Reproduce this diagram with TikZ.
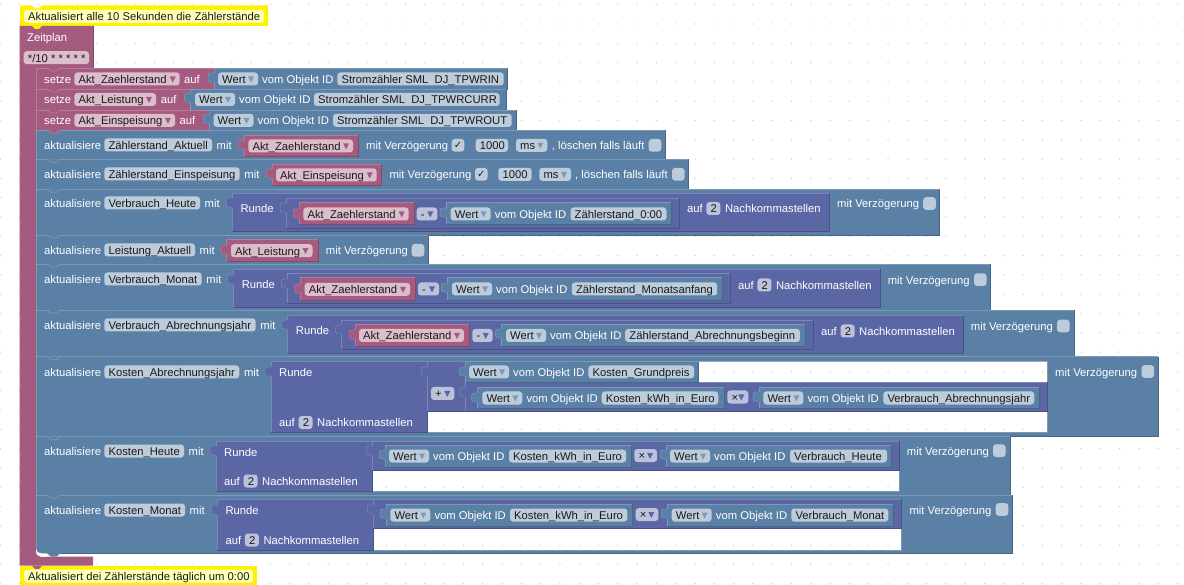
\documentclass[tikz,border=0pt]{standalone}
\usepackage{fontspec}
\setmainfont{Liberation Sans}
\newfontfamily\djvfont{DejaVu Sans}
\definecolor{bluB}{HTML}{5B80A5}\definecolor{bluL}{HTML}{7C99B7}\definecolor{bluD}{HTML}{496684}\definecolor{bluC}{HTML}{BDCCDB}\definecolor{bluA}{HTML}{7F9AB5}
\definecolor{pnkB}{HTML}{A55B80}\definecolor{pnkL}{HTML}{B77C99}\definecolor{pnkD}{HTML}{844966}\definecolor{pnkC}{HTML}{DBBDCC}\definecolor{pnkA}{HTML}{A55B80}
\definecolor{purB}{HTML}{5B67A5}\definecolor{purL}{HTML}{7C85B7}\definecolor{purD}{HTML}{495284}\definecolor{purC}{HTML}{BDC2DB}\definecolor{purA}{HTML}{5B67A5}
\definecolor{yelC}{HTML}{FFFFB8}\definecolor{txtD}{HTML}{1A1A1A}\definecolor{gridDot}{HTML}{CFCFCF}
\tikzset{
 lab/.style={anchor=base west,inner sep=0pt,text=white,font=\fontsize{11.25}{13}\selectfont},
 fld/.style={anchor=base west,inner sep=0pt,text=txtD,font=\fontsize{11.25}{13}\selectfont},
 edge/.style={line width=0.8pt},
 thin edge/.style={line width=0.5pt}
}
% block: x1 y1 x2 y2 colour
\newcommand\myblk[5]{\fill[#5B] (#1,#2) rectangle (#3,#4);
 \draw[#5L,edge] (#1,#4) -- (#1,#2) -- (#3,#2);
 \draw[#5D,edge] (#3,#2) -- (#3,#4) -- (#1,#4);}
% block with an open hole: outer x1 y1 x2 y2, hole x3 y3 x4 y4
\newcommand\myholeblk[8]{\fill[bluB,even odd rule] (#1,#2) rectangle (#3,#4) (#5,#6) rectangle (#7,#8);
 \draw[bluL,edge] (#1,#4) -- (#1,#2) -- (#3,#2);
 \draw[bluD,edge] (#3,#2) -- (#3,#4) -- (#1,#4);
 \draw[bluL,edge] (#5,#8) -- (#7,#8) -- (#7,#6);}
\newcommand\mylab[3]{\node[lab] at ({#1},{#2+4.4}) {#3};}
% chip: x1 x2 cy text colour
\newcommand\mychip[5]{\fill[#5C,rounded corners=3pt] (#1,{#3-6.5}) rectangle (#2,{#3+6.5});
 \node[fld] at ({#1+4},{#3+4.4}) {#4};}
\newcommand\myddn[5]{\mychip{#1}{#2}{#3}{#4}{#5}
 \fill[#5A] ({#2-10},{#3-2.5}) -- ({#2-4},{#3-2.5}) -- ({#2-7},{#3+3.5}) -- cycle;}
\newcommand\myoid[5]{\myddn{#1}{#1+40}{#4}{Wert}{blu}\mylab{#1+44}{#4}{vom Objekt ID}\mychip{#2}{#3}{#4}{#5}{blu}}
\newcommand\mycheck[3]{\fill[bluC,rounded corners=3pt] (#1,{#2-6.3}) rectangle ({#1+12.6},{#2+6.3});
 \node[fld,anchor=center,font=\djvfont\fontsize{10}{12}\selectfont] at ({#1+6.3},#2) {#3};}
\newcommand\myptab[3]{\filldraw[fill=#3B,draw=#3L,line width=0.5pt] ({#1+0.6},{#2-5.5}) .. controls ({#1-1},{#2-4}) and ({#1-6},{#2-6}) .. ({#1-6},{#2-3}) -- ({#1-6},{#2+2}) .. controls ({#1-6},{#2+5}) and ({#1-1},{#2+3}) .. ({#1+0.6},{#2+5});
 \fill[#3B] ({#1},{#2-5}) rectangle ({#1+1},{#2+4.5});}
\newcommand\mynotch[2]{\fill[#2B] (47.5,#1) -- (51,{#1+3}) -- (56.5,{#1+3}) -- (60,#1) -- cycle;
 \draw[#2L,line width=0.7pt] (47.5,#1) -- (51,{#1+3}) -- (56.5,{#1+3}) -- (60,#1);}
\newcommand\myakt[4]{\mylab{44}{#1}{aktualisiere}\mychip{104.3}{#2}{#1}{#3}{blu}\mylab{#2+4.5}{#1}{mit}}
\newcommand\myrunde[5]{\mylab{#1}{#2}{auf}\mychip{#1+19.6}{#1+33.6}{#2}{2}{pur}\mylab{#1+38}{#2}{Nachkommastellen}}
\begin{document}
\begin{tikzpicture}[x=1pt,y=-1pt]
\useasboundingbox (0,0) rectangle (1184,585);
\fill[white] (0,0) rectangle (1184,585);
\foreach \i in {0,...,61}{\foreach \j in {0,...,30}{
 \fill[gridDot] ({0.2+19.3*\i},{4.7+19.3*\j}) circle (0.75pt);}}
% comment 1
\fill[yellow] (20,7.5) .. controls (20,6) and (21,5.5) .. (22,5.5) -- (32,5.5) -- (35,8.5) -- (39,8.5) -- (42,5.5) -- (268,5.5) -- (268,26) -- (42,26) -- (39,29) -- (35,29) -- (32,26) -- (20,26) -- cycle;
\mychip{24}{264}{16.3}{Aktualisiert alle 10 Sekunden die Zählerstände}{yel}
% schedule block
\fill[pnkB] (19.5,26) -- (93,26) -- (93,68) -- (41,68) .. controls (38,68) and (36,70) .. (36,73) -- (36,551) .. controls (36,554.5) and (38,556.7) .. (41,556.7) -- (93,556.7) -- (93,565.7) -- (19.5,565.7) -- cycle;
\draw[pnkD,edge] (93,26) -- (93,68);
\fill[yellow] (35,26) -- (39,26) -- (42,26) -- (39,29) -- (35,29) -- (32,26) -- cycle;
\mylab{27}{37}{Zeitplan}
\mychip{23.7}{89}{57.7}{*/10 * * * * *}{pnk}
% setze rows
\myblk{36}{68}{214}{89}{pnk}\myblk{214}{68}{507.7}{89}{blu}\myptab{214}{78}{blu}
\mylab{44}{79}{setze}\myddn{74.3}{179.7}{79}{Akt\_Zaehlerstand}{pnk}\mylab{184}{79}{auf}
\myoid{218}{337.3}{503.7}{79}{Stromzähler SML\ \ DJ\_TPWRIN}
\myblk{36}{89}{190.5}{110}{pnk}\myblk{190.5}{89}{506}{110}{blu}\myptab{190.5}{98}{blu}
\mylab{44}{99.5}{setze}\myddn{74.3}{156}{99.5}{Akt\_Leistung}{pnk}\mylab{160.7}{99.5}{auf}
\myoid{195}{314}{499.5}{99.5}{Stromzähler SML\ \ DJ\_TPWRCURR}
\myblk{36}{110}{209.5}{130}{pnk}\myblk{209.5}{110}{516}{130}{blu}\myptab{209.5}{119}{blu}
\mylab{44}{120.3}{setze}\myddn{74.3}{175}{120.3}{Akt\_Einspeisung}{pnk}\mylab{179.5}{120.3}{auf}
\myoid{213.5}{333}{511.7}{120.3}{Stromzähler SML\ \ DJ\_TPWROUT}
% Zaehlerstand_Aktuell
\myblk{36}{130}{665.3}{159.3}{blu}
\myakt{145}{212}{Zählerstand\_Aktuell}{}
\myblk{244}{135}{358.3}{156}{pnk}\myptab{244}{145}{pnk}\myddn{248.3}{353}{146}{Akt\_Zaehlerstand}{pnk}
\mylab{366}{145}{mit Verzögerung}\mycheck{451.7}{145.3}{✓}
\mychip{475.7}{508}{145.3}{1000}{blu}\myddn{516}{547.3}{145.3}{ms}{blu}
\mylab{551.7}{145}{, löschen falls läuft}\mycheck{648.7}{145.3}{}
% Zaehlerstand_Einspeisung
\myblk{36}{159.3}{688.7}{189.3}{blu}
\myakt{174}{239.7}{Zählerstand\_Einspeisung}{}
\myblk{272}{164}{381.7}{185}{pnk}\myptab{272}{174}{pnk}\myddn{276}{376.7}{175}{Akt\_Einspeisung}{pnk}
\mylab{389.3}{174}{mit Verzögerung}\mycheck{475}{174.3}{✓}
\mychip{498.3}{531.7}{174.3}{1000}{blu}\myddn{539.3}{571}{174.3}{ms}{blu}
\mylab{575}{174}{, löschen falls läuft}\mycheck{672}{174.3}{}
% Verbrauch_Heute
\myblk{36}{189.3}{939.6}{235}{blu}
\myakt{203}{200}{Verbrauch\_Heute}{}
\myblk{232.3}{193.3}{829.4}{231.7}{pur}\myptab{232.3}{203}{pur}\mylab{240.3}{208}{Runde}
\myblk{286}{198.3}{679.3}{228.3}{pur}\myptab{286}{208}{pur}
\myblk{299.3}{202.3}{414}{224.3}{pnk}\myptab{299.3}{214}{pnk}\myddn{303.3}{408.7}{214}{Akt\_Zaehlerstand}{pnk}
\myddn{416.7}{437.3}{214}{-}{pur}
\myblk{446}{202.3}{671.6}{224.3}{blu}\myptab{446}{213}{blu}
\myoid{450.7}{570.5}{666.5}{214}{Zählerstand\_0:00}
\myrunde{686.8}{208.5}{}{}{}
\mylab{837}{203}{mit Verzögerung}\mycheck{923.2}{203.5}{}
% Leistung_Aktuell
\myblk{36}{235}{428.7}{264}{blu}
\myakt{250}{195}{Leistung\_Aktuell}{}
\myblk{226.7}{239.3}{318.7}{261}{pnk}\myptab{226.7}{250}{pnk}\myddn{231}{312.5}{250.7}{Akt\_Leistung}{pnk}
\mylab{325.7}{250}{mit Verzögerung}\mycheck{411.7}{250.3}{}
% Verbrauch_Monat
\myblk{36}{264}{990}{310}{blu}
\myakt{279}{201.7}{Verbrauch\_Monat}{}
\myblk{233.7}{269}{880.5}{307.3}{pur}\myptab{233.7}{280}{pur}\mylab{241.6}{284}{Runde}
\myblk{287.3}{273.3}{730.7}{303.7}{pur}\myptab{287.3}{284}{pur}
\myblk{300.7}{277.7}{415.3}{300}{pnk}\myptab{300.7}{289}{pnk}\myddn{304.7}{410}{289.3}{Akt\_Zaehlerstand}{pnk}
\myddn{418}{439}{289}{-}{pur}
\myblk{447.3}{277.7}{722.3}{300}{blu}\myptab{447.3}{288}{blu}
\myoid{452}{571.8}{717.2}{289}{Zählerstand\_Monatsanfang}
\myrunde{737.8}{285}{}{}{}
\mylab{887.6}{280}{mit Verzögerung}\mycheck{974}{279.7}{}
% Verbrauch_Abrechnungsjahr
\myblk{36}{310}{1074}{356.7}{blu}
\myakt{325}{255.7}{Verbrauch\_Abrechnungsjahr}{}
\myblk{287.7}{315.7}{963.3}{353.3}{pur}\myptab{287.7}{325}{pur}\mylab{295.7}{330}{Runde}
\myblk{341.7}{320}{813.5}{349.3}{pur}\myptab{341.7}{330}{pur}
\myblk{355}{324.3}{469.3}{346}{pnk}\myptab{355}{335}{pnk}\myddn{359}{464}{335.5}{Akt\_Zaehlerstand}{pnk}
\myddn{472.3}{492.7}{335.5}{-}{pur}
\myblk{501.7}{324.3}{805.8}{346}{blu}\myptab{501.7}{334}{blu}
\myoid{506}{625.2}{800}{335.5}{Zählerstand\_Abrechnungsbeginn}
\myrunde{821}{331}{}{}{}
\mylab{970.7}{326}{mit Verzögerung}\mycheck{1057}{326}{}
% Kosten_Abrechnungsjahr
\myholeblk{36}{356.7}{1158.3}{436.7}{427.3}{361.7}{1047.7}{432.3}
\myakt{372}{239.3}{Kosten\_Abrechnungsjahr}{}
\myblk{271}{361.7}{427.3}{432.3}{pur}\myptab{271}{372}{pur}\mylab{279}{372}{Runde}
\myrunde{279}{422.5}{}{}{}
\myblk{427.3}{361.7}{465.5}{411.3}{pur}\myptab{427.3}{372}{pur}
\myddn{431}{454.3}{393.5}{+}{pur}
\myblk{465.5}{382.3}{1047.7}{411.3}{pur}
\myblk{465.5}{361.7}{698.5}{382.3}{blu}\myptab{465.5}{372}{blu}
\myoid{469}{588.3}{694}{372}{Kosten\_Grundpreis}
\myptab{465.5}{392.5}{pur}
\myblk{477.7}{387.3}{724}{408}{blu}\myptab{477.7}{398}{blu}
\myoid{482.3}{601.7}{718.3}{398}{Kosten\_kWh\_in\_Euro}
\myddn{727.3}{748.3}{397}{×}{pur}
\myblk{759}{387.3}{1039.3}{408}{blu}\myptab{759}{397}{blu}
\myoid{763.3}{883.3}{1034.3}{398}{Verbrauch\_Abrechnungsjahr}
\mylab{1055}{372}{mit Verzögerung}\mycheck{1141.5}{371.5}{}
% Kosten_Heute
\myholeblk{36}{436.7}{1010}{495}{372}{441}{899.3}{491.3}
\myakt{451}{184}{Kosten\_Heute}{}
\myblk{216}{441}{372}{491.3}{pur}\myptab{216}{451}{pur}\mylab{224}{452}{Runde}
\myrunde{224}{481}{}{}{}
\myblk{372}{441}{899.3}{470}{pur}\myptab{372}{451}{pur}
\myblk{385}{445}{631}{467}{blu}\myptab{385}{455}{blu}
\myoid{389}{509}{626}{456}{Kosten\_kWh\_in\_Euro}
\myddn{634.3}{657}{455.5}{×}{pur}
\myblk{666}{445}{891.7}{467}{blu}\myptab{666}{455}{blu}
\myoid{670}{790}{887}{456}{Verbrauch\_Heute}
\mylab{906.7}{451}{mit Verzögerung}\mycheck{993}{450.7}{}
% Kosten_Monat
\myholeblk{36}{495}{1012.7}{553.3}{373.3}{499}{901.7}{550}
\myakt{510}{185}{Kosten\_Monat}{}
\myblk{217.3}{499}{373.3}{550}{pur}\myptab{217.3}{510}{pur}\mylab{225.3}{510}{Runde}
\myrunde{225.3}{540}{}{}{}
\myblk{373.3}{499}{901.7}{528.7}{pur}\myptab{373.3}{510}{pur}
\myblk{386}{504}{632.3}{526}{blu}\myptab{386}{514}{blu}
\myoid{390.3}{510}{627.3}{515}{Kosten\_kWh\_in\_Euro}
\myddn{635.7}{658.3}{514.5}{×}{pur}
\myblk{667.3}{504}{893.7}{526}{blu}\myptab{667.3}{514}{blu}
\myoid{671.7}{791.3}{888.3}{515}{Verbrauch\_Monat}
\mylab{909.3}{510}{mit Verzögerung}\mycheck{995.7}{509.5}{}
% statement notches
\mynotch{68}{pnk}\mynotch{89}{pnk}\mynotch{110}{pnk}\mynotch{130}{pnk}
\mynotch{159.3}{blu}\mynotch{189.3}{blu}\mynotch{235}{blu}\mynotch{264}{blu}
\mynotch{310}{blu}\mynotch{356.7}{blu}\mynotch{436.7}{blu}\mynotch{495}{blu}\mynotch{553.3}{blu}
% rounded stack foot
\fill[white] (36,549) .. controls (36.5,552) and (38.5,553.3) .. (41,553.3) -- (47,553.3) -- (47,556.7) -- (41,556.7) .. controls (38,556.7) and (36,554.5) .. (36,551) -- cycle;
% comment 2
\fill[yellow] (20,565.7) rectangle (257,585);
\fill[pnkB] (32,565.7) -- (42,565.7) -- (39,569) -- (35,569) -- cycle;
\mychip{24}{253}{576}{Aktualisiert dei Zählerstände täglich um 0:00}{yel}
\end{tikzpicture}
\end{document}
